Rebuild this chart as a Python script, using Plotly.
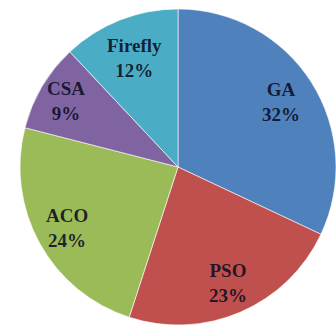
import math
import plotly.graph_objects as go

labels = ["GA", "PSO", "ACO", "CSA", "Firefly"]
values = [32, 23, 24, 9, 12]
colors = ["#4F81BD", "#C0504D", "#9BBB59", "#8064A2", "#4BACC6"]

W, H = 336, 329
# pie geometry (pixels)
x0, x1 = 20, 336
y0_top, y1_bot = 9, 325
cx = (x0 + x1) / 2
cy = (y0_top + y1_bot) / 2
R = min(x1 - x0, y1_bot - y0_top) / 2

fig = go.Figure(go.Pie(
    labels=labels,
    values=values,
    sort=False,
    direction="clockwise",
    rotation=0,
    marker=dict(colors=colors, line=dict(color="rgba(255,255,255,0.6)", width=1)),
    textinfo="none",
    showlegend=False,
    hoverinfo="none",
    domain=dict(x=[x0 / W, x1 / W], y=[1 - y1_bot / H, 1 - y0_top / H]),
))

total = sum(values)
radial = [0.77, 0.80, 0.80, 0.82, 0.74]
cum = 0
for lab, v, rf in zip(labels, values, radial):
    mid = (cum + v / 2) / total
    cum += v
    ang = math.radians(90 - mid * 360)
    px = cx + rf * R * math.cos(ang)
    py = cy - rf * R * math.sin(ang)
    fig.add_annotation(
        x=px / W, y=1 - py / H, xref="paper", yref="paper",
        text=f"{lab}<br>{v}%", showarrow=False, align="center",
        xanchor="center", yanchor="middle",
        font=dict(family="Liberation Serif, Times New Roman, serif", size=19,
                  color="rgba(12,14,34,0.88)", weight="bold"),
    )

fig.update_layout(
    width=W, height=H,
    margin=dict(l=0, r=0, t=0, b=0),
    paper_bgcolor="white",
    plot_bgcolor="white",
)
fig.write_html("out.html")
